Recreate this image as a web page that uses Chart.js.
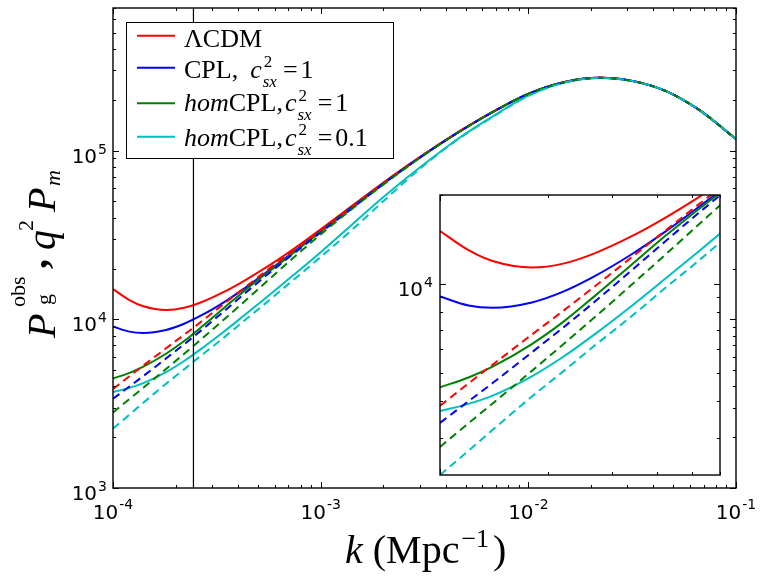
<!DOCTYPE html>
<html>
<head>
<meta charset="utf-8">
<script src="https://cdn.jsdelivr.net/npm/chart.js@4.4.1/dist/chart.umd.min.js"></script>
<style>
  body { margin: 0; background: #fff; }
  #wrap { position: relative; width: 766px; height: 585px; }
  #inset { position: absolute; left: 390px; top: 185px; }
</style>
</head>
<body>
<div id="wrap">
  <canvas id="main" width="766" height="585"></canvas>
  <canvas id="inset" width="340" height="300"></canvas>
</div>
<script>
const k = [1e-4, 1.2e-4, 1.4e-4, 1.8e-4, 2.2e-4, 2.7e-4, 3.4e-4, 4.2e-4, 5.2e-4, 6.5e-4, 8e-4, 1e-3,
  1.4e-3, 2e-3, 3e-3, 4.5e-3, 6.5e-3, 1e-2, 1.5e-2, 2.2e-2, 3.2e-2, 4.6e-2, 6.7e-2, 1e-1];

// P_g^obs (solid)
const lcdmObs = [15100, 13000, 11950, 11360, 11710, 12710, 14470, 16670, 19560, 23380, 27890, 34100,
  46620, 64500, 91400, 126500, 165400, 217000, 255000, 270000, 258000, 225000, 173000, 117000];
const cplObs = [9060, 8450, 8300, 8650, 9410, 10640, 12570, 14940, 18100, 22200, 26950, 33300,
  46000, 63800, 91000, 126300, 165300, 216900, 255000, 270000, 258000, 225000, 173000, 117000];
const homObs = [4460, 4815, 5240, 6250, 7430, 9120, 11590, 14430, 17800, 21900, 26750, 33100,
  45700, 63500, 90800, 126200, 165100, 216800, 255000, 270000, 258000, 225000, 173000, 117000];
const hom01Obs = [3710, 3920, 4180, 4860, 5660, 6770, 8400, 10340, 12800, 16040, 19820, 25000,
  35960, 52860, 79300, 115600, 155200, 211600, 254000, 269500, 258000, 225000, 173000, 117000];

// q^2 P_m (dashed)
const lcdmMat = [3860, 4600, 5320, 6730, 8100, 9830, 12270, 15050, 18480, 22740, 27470, 33650,
  45870, 64200, 91200, 126400, 165300, 217000, 255000, 270000, 258000, 225000, 173000, 117000];
const cplMat = [3380, 4000, 4610, 5860, 7110, 8730, 11080, 13830, 17270, 21580, 26400, 32700,
  45000, 63300, 90700, 126100, 165100, 216800, 255000, 270000, 258000, 225000, 173000, 117000];
const homMat = [2800, 3370, 3930, 5070, 6240, 7730, 9900, 12460, 15760, 20140, 25200, 31860,
  44600, 62800, 90300, 125800, 164900, 216700, 255000, 270000, 258000, 225000, 173000, 117000];
const hom01Mat = [2250, 2720, 3200, 4150, 5050, 6200, 7750, 9620, 11900, 14990, 18550, 23420,
  33500, 50000, 78000, 114900, 154000, 210900, 253000, 269500, 258000, 225000, 173000, 117000];

const kMarker = 2.44e-4;

const SERIF = '"Liberation Serif", "DejaVu Serif", serif';
const SANS = '"DejaVu Sans", "Liberation Sans", sans-serif';
const RED = "#ff0000", BLUE = "#0000ff", GREEN = "#008000", CYAN = "#00bfbf";

const curve = (values, color, dashed) => ({
  data: k.map((kv, i) => ({ x: kv, y: values[i] })),
  borderColor: color,
  borderWidth: 2,
  borderDash: dashed ? [8, 5] : [],
  pointRadius: 0,
  cubicInterpolationMode: "monotone",
  fill: false,
  clip: 0,
});

// first entry is drawn on top
const curveSets = () => [
  curve(hom01Mat, CYAN, true),
  curve(homMat, GREEN, true),
  curve(cplMat, BLUE, true),
  curve(lcdmMat, RED, true),
  curve(hom01Obs, CYAN, false),
  curve(homObs, GREEN, false),
  curve(cplObs, BLUE, false),
  curve(lcdmObs, RED, false),
];

const decadeTicks = function (min, max) {
  const major = [], minor = [];
  for (let e = Math.floor(Math.log10(min)); e <= Math.ceil(Math.log10(max)); e++) {
    for (let m = 1; m <= 9; m++) {
      const v = m * Math.pow(10, e);
      if (v >= min * 0.9999 && v <= max * 1.0001) (m === 1 ? major : minor).push(v);
    }
  }
  return { major, minor };
};

const drawFrame = function (chart) {
  const { ctx, chartArea: a, scales } = chart;
  ctx.save();
  ctx.strokeStyle = "#000";
  ctx.lineWidth = 1;
  ctx.beginPath();
  const xt = decadeTicks(scales.x.min, scales.x.max);
  const yt = decadeTicks(scales.y.min, scales.y.max);
  [[xt.major, 6], [xt.minor, 3]].forEach(([vals, len]) => vals.forEach((v) => {
    const px = Math.round(scales.x.getPixelForValue(v)) + 0.5;
    ctx.moveTo(px, a.bottom); ctx.lineTo(px, a.bottom - len);
    ctx.moveTo(px, a.top); ctx.lineTo(px, a.top + len);
  }));
  [[yt.major, 6], [yt.minor, 3]].forEach(([vals, len]) => vals.forEach((v) => {
    const py = Math.round(scales.y.getPixelForValue(v)) + 0.5;
    ctx.moveTo(a.left, py); ctx.lineTo(a.left + len, py);
    ctx.moveTo(a.right, py); ctx.lineTo(a.right - len, py);
  }));
  ctx.stroke();
  ctx.lineWidth = 1.4;
  ctx.strokeRect(a.left, a.top, a.right - a.left, a.bottom - a.top);
  ctx.restore();
};

// "10" with a raised exponent
const powRight = function (ctx, exp, xRight, py) {
  ctx.font = "14px " + SANS;
  const we = ctx.measureText(exp).width;
  ctx.font = "20px " + SANS;
  const wb = ctx.measureText("10").width;
  ctx.fillText("10", xRight - we - wb - 1, py + 12);
  ctx.font = "14px " + SANS;
  ctx.fillText(exp, xRight - we, py + 3);
};
const powCenter = function (ctx, exp, px, base) {
  ctx.font = "14px " + SANS;
  const we = ctx.measureText(exp).width;
  ctx.font = "20px " + SANS;
  const wb = ctx.measureText("10").width;
  const x0 = px - (wb + we + 1) / 2;
  ctx.fillText("10", x0, base);
  ctx.font = "14px " + SANS;
  ctx.fillText(exp, x0 + wb + 1, base - 10);
};

// rich text: [text, font, dx, dy] ; ["stack", supText, supFont, subText, subFont, supDy, subDy, dx]
const rich = function (ctx, x, y, parts) {
  parts.forEach((p) => {
    if (p[0] === "stack") {
      const [, sup, supFont, sub, subFont, supDy, subDy, dx] = p;
      x += dx || 0;
      ctx.font = supFont; const w1 = ctx.measureText(sup).width; ctx.fillText(sup, x + 1, y + supDy);
      ctx.font = subFont; const w2 = ctx.measureText(sub).width; ctx.fillText(sub, x, y + subDy);
      x += Math.max(w1 + 1, w2);
    } else {
      const [t, font, dx, dy] = p;
      x += dx || 0;
      ctx.font = font;
      ctx.fillText(t, x, y + (dy || 0));
      x += ctx.measureText(t).width;
    }
  });
  return x;
};

const RM = "26px " + SERIF, IT = "italic 26px " + SERIF;
const SRM = "17px " + SERIF, SIT = "italic 17px " + SERIF;
const cParts = (tail) => [["c", IT, 0], ["stack", "2", SRM, "sx", SIT, -10.5, 9, 1], ["=", RM, 6], [tail, RM, 3]];
const legendRows = [
  { color: RED, y: 35.7, base: 46.5, parts: [["ΛCDM", RM]] },
  { color: BLUE, y: 67.7, base: 77.5, parts: [["CPL,", RM], ["", RM, 12]].concat(cParts("1")) },
  { color: GREEN, y: 103.3, base: 111, parts: [["hom", IT], ["CPL,", RM], ["", RM, 2]].concat(cParts("1")) },
  { color: CYAN, y: 136.7, base: 145.5, parts: [["hom", IT], ["CPL,", RM], ["", RM, 2]].concat(cParts("0.1")) },
];

const drawLegend = function (ctx) {
  ctx.save();
  ctx.fillStyle = "#fff";
  ctx.fillRect(126, 22, 267, 136);
  ctx.strokeStyle = "#000";
  ctx.lineWidth = 1;
  ctx.strokeRect(126.5, 22.5, 267, 136);
  legendRows.forEach((row) => {
    ctx.strokeStyle = row.color;
    ctx.lineWidth = 2;
    ctx.beginPath();
    ctx.moveTo(137, row.y); ctx.lineTo(175, row.y);
    ctx.stroke();
    ctx.fillStyle = "#000";
    rich(ctx, 184, row.base, row.parts);
  });
  ctx.restore();
};

const drawTitles = function (ctx) {
  ctx.save();
  ctx.fillStyle = "#000";
  const R40 = "40px " + SERIF, I40 = "italic 40px " + SERIF;
  const R26 = "26px " + SERIF;
  rich(ctx, 345, 563, [["k", I40], [" (", R40], ["Mpc", R40], ["\u22121", R26, 2, -16], [")", R40, 4]]);

  ctx.translate(55, 338);
  ctx.rotate(-Math.PI / 2);
  const put = (t, f, x, y) => { ctx.font = f; ctx.fillText(t, x, y); };
  put("P", I40, 0, 0);
  put("obs", "22px " + SERIF, 31, -30);
  put("g", "22px " + SERIF, 33, -4);
  put(",", "bold 40px " + SERIF, 69, -8);
  put("q", I40, 88, 0);
  put("2", "22px " + SERIF, 107, -22);
  put("P", I40, 126, 0);
  put("m", "italic 22px " + SERIF, 152, 5);
  ctx.restore();
};

const mainDecor = {
  id: "mainDecor",
  beforeDraw(chart) {
    const ctx = chart.ctx;
    ctx.save();
    ctx.fillStyle = "#fff";
    ctx.fillRect(0, 0, chart.width, chart.height);
    ctx.restore();
  },
  afterDraw(chart) {
    const { ctx, chartArea: a, scales } = chart;
    drawFrame(chart);
    ctx.save();
    ctx.fillStyle = "#000";
    ctx.textBaseline = "alphabetic";
    [[1e3, "3"], [1e4, "4"], [1e5, "5"]].forEach(([v, e]) =>
      powRight(ctx, e, a.left - 6, scales.y.getPixelForValue(v)));
    [[1e-4, "-4"], [1e-3, "-3"], [1e-2, "-2"], [1e-1, "-1"]].forEach(([v, e]) =>
      powCenter(ctx, e, scales.x.getPixelForValue(v), a.bottom + 31));
    ctx.restore();
    drawTitles(ctx);
    drawLegend(ctx);
  },
};

const insetDecor = {
  id: "insetDecor",
  beforeDraw(chart) {
    const { ctx, chartArea: a } = chart;
    ctx.save();
    ctx.fillStyle = "#fff";
    ctx.fillRect(a.left, a.top, a.right - a.left, a.bottom - a.top);
    ctx.restore();
  },
  afterDraw(chart) {
    const { ctx, chartArea: a, scales } = chart;
    drawFrame(chart);
    ctx.save();
    ctx.fillStyle = "#000";
    powRight(ctx, "4", a.left - 7, scales.y.getPixelForValue(1e4));
    ctx.restore();
  },
};

const baseOptions = (xMin, xMax, yMin, yMax, padding) => ({
  responsive: false,
  animation: false,
  devicePixelRatio: 1,
  layout: { padding: padding },
  plugins: { legend: { display: false }, tooltip: { enabled: false } },
  events: [],
  scales: {
    x: { type: "logarithmic", min: xMin, max: xMax, display: false },
    y: { type: "logarithmic", min: yMin, max: yMax, display: false },
  },
});

const init = function () {
  const marker = {
    data: [{ x: kMarker, y: 1e3 }, { x: kMarker, y: 7e5 }],
    borderColor: "#000",
    borderWidth: 1.2,
    pointRadius: 0,
    tension: 0,
    clip: 0,
  };
  new Chart(document.getElementById("main"), {
    type: "line",
    data: { datasets: [marker].concat(curveSets()) },
    options: baseOptions(1e-4, 1e-1, 1e3, 7e5, { left: 113, right: 30, top: 8, bottom: 97 }),
    plugins: [mainDecor],
  });
  new Chart(document.getElementById("inset"), {
    type: "line",
    data: { datasets: curveSets() },
    options: baseOptions(1e-4, 6e-4, 2250, 2e4, { left: 50, right: 10, top: 10, bottom: 10 }),
    plugins: [insetDecor],
  });
};

window.onload = init;
</script>
</body>
</html>
